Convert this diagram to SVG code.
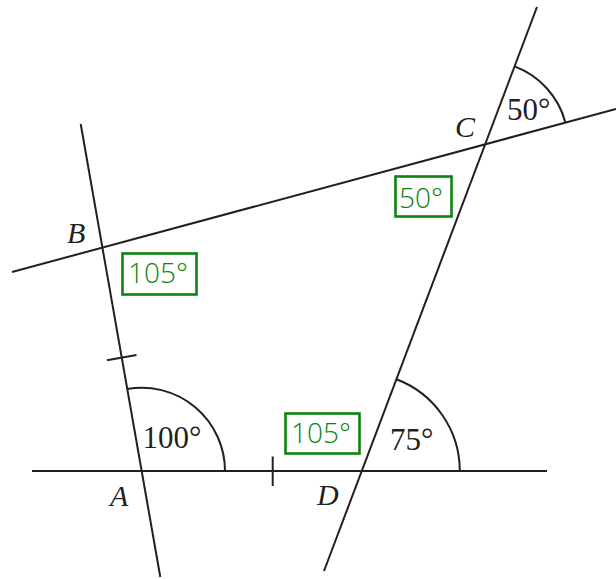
<svg xmlns="http://www.w3.org/2000/svg" width="616" height="579" viewBox="0 0 616 579">
<style>
.ln{stroke:#231f20;stroke-width:2;fill:none;stroke-linecap:butt}
.lbl{font-family:"Liberation Serif",serif;font-style:italic;font-size:30px;fill:#231f20}
.num{font-family:"Liberation Serif",serif;font-size:31px;fill:#231f20}
.box{fill:none;stroke:#0f820f;stroke-width:2.6}
.gt{font-family:"Open Sans","DejaVu Sans",sans-serif;font-weight:300;font-size:28px;fill:#0f820f}
</style>
<rect width="616" height="579" fill="#ffffff"/>
<g id="connectors">
<line class="ln" x1="80.7" y1="124" x2="160.3" y2="577"/>
<line class="ln" x1="12" y1="272" x2="616" y2="109"/>
<line class="ln" x1="537" y1="7" x2="324" y2="571"/>
<line class="ln" x1="32" y1="471" x2="547" y2="471"/>
<line class="ln" x1="107" y1="360.3" x2="136.5" y2="355"/>
<line class="ln" x1="272.7" y1="456.5" x2="272.7" y2="486"/>
<path class="ln" d="M127.3,389 A83.3,83.3 0 0 1 225,471"/>
<path class="ln" d="M396.4,379.3 A98,98 0 0 1 459.8,471"/>
<path class="ln" d="M514.6,66.4 A83,83 0 0 1 565.4,122.4"/>
</g>
<g id="A"><text class="lbl" x="110" y="506">A</text><text class="num" x="142.5" y="447.5">100°</text></g>
<g id="B"><text class="lbl" x="67" y="243">B</text>
<rect class="box" x="122.5" y="253.5" width="74" height="41"/><text class="gt" x="128" y="283">105°</text></g>
<g id="C"><text class="lbl" x="455" y="137">C</text><text class="num" x="507" y="120">50°</text>
<rect class="box" x="395.5" y="176.5" width="56" height="40"/><text class="gt" x="399" y="208">50°</text></g>
<g id="D"><text class="lbl" x="317" y="505">D</text><text class="num" x="390" y="450">75°</text>
<rect class="box" x="285.5" y="413.5" width="74" height="40"/><text class="gt" x="291" y="443">105°</text></g>
</svg>
